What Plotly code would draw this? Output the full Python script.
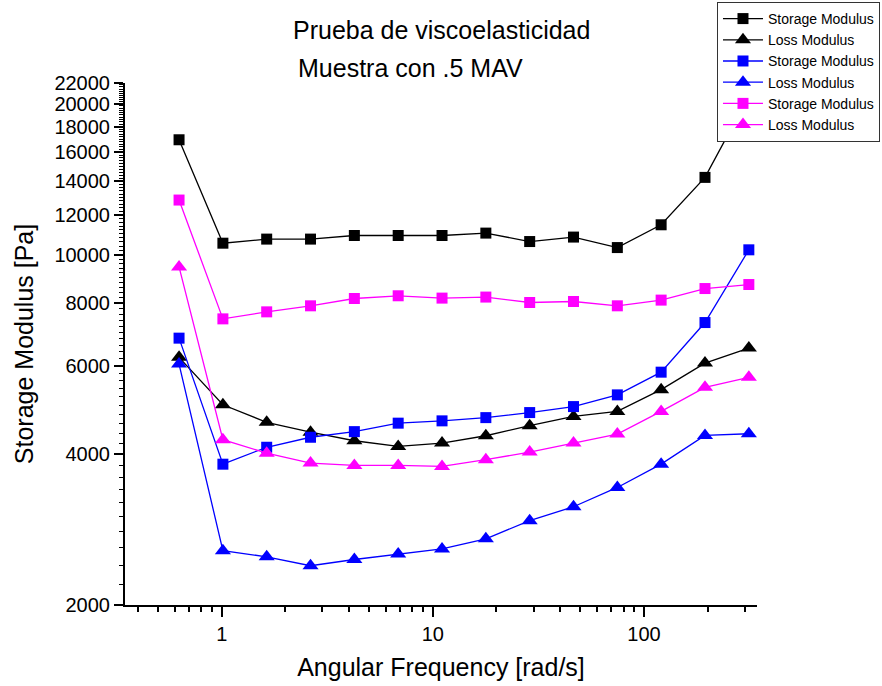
import plotly.graph_objects as go

# Angular frequency sweep (rad/s), 14 points per curve
freq = [0.628, 1.013, 1.633, 2.634, 4.248, 6.851, 11.05, 17.82, 28.74, 46.35, 74.75, 120.5, 194.4, 313.6]

# Moduli in Pa for the three samples (black, blue, magenta)
black_storage = [16950, 10540, 10740, 10740, 10920, 10920, 10920, 11040, 10620, 10840, 10330, 11470, 14260, 20740]
black_loss = [6238, 5018, 4628, 4425, 4253, 4144, 4208, 4352, 4558, 4756, 4867, 5378, 6076, 6512]
blue_storage = [6814, 3819, 4128, 4322, 4435, 4611, 4660, 4730, 4841, 4976, 5251, 5828, 7320, 10224]
blue_loss = [6048, 2566, 2496, 2395, 2465, 2527, 2588, 2711, 2946, 3141, 3432, 3820, 4358, 4392]
magenta_storage = [12850, 7445, 7689, 7905, 8175, 8278, 8190, 8229, 8026, 8063, 7905, 8115, 8558, 8717]
magenta_loss = [9450, 4274, 4018, 3838, 3797, 3797, 3780, 3899, 4037, 4208, 4386, 4867, 5436, 5692]

x_major = [1, 10, 100]
x_major_text = ["1", "10", "100"]
x_minor = [0.4, 0.5, 0.6, 0.7, 0.8, 0.9, 2, 3, 4, 5, 6, 7, 8, 9,
           20, 30, 40, 50, 60, 70, 80, 90, 200, 300]
y_major = [2000, 4000, 6000, 8000, 10000, 12000, 14000, 16000, 18000, 20000, 22000]
y_major_text = [str(v) for v in y_major]
y_minor = [v for v in range(2000, 22001, 200) if v % 2000 != 0]

FONT = "Liberation Sans, Arial, sans-serif"

series = [
    ("Storage Modulus", black_storage, "#000000", "square", 11),
    ("Loss Modulus", black_loss, "#000000", "triangle-up", 14),
    ("Storage Modulus", blue_storage, "#0000FF", "square", 11),
    ("Loss Modulus", blue_loss, "#0000FF", "triangle-up", 14),
    ("Storage Modulus", magenta_storage, "#FF00FF", "square", 11),
    ("Loss Modulus", magenta_loss, "#FF00FF", "triangle-up", 14),
]

fig = go.Figure()
for name, vals, color, symbol, size in series:
    fig.add_trace(go.Scatter(
        x=freq, y=vals, name=name, mode="lines+markers",
        line=dict(color=color, width=1.3),
        marker=dict(symbol=symbol, size=size, color=color, line=dict(width=0)),
    ))

fig.update_layout(
    width=882, height=686,
    margin=dict(l=125, r=125, t=83, b=81, autoexpand=False),
    paper_bgcolor="white", plot_bgcolor="white",
    font=dict(family=FONT, color="black"),
    showlegend=True,
    legend=dict(
        x=1.1946, y=1.1552, xanchor="right", yanchor="top",
        bgcolor="white", bordercolor="#333333", borderwidth=1,
        font=dict(size=14, family=FONT),
        tracegroupgap=0, itemwidth=40,
    ),
    annotations=[
        dict(text="Prueba de viscoelasticidad", xref="paper", yref="paper",
             x=0.2627, y=1.1015, xanchor="left", yanchor="middle",
             showarrow=False, font=dict(size=25, family=FONT)),
        dict(text="Muestra con .5 MAV", xref="paper", yref="paper",
             x=0.2706, y=1.0287, xanchor="left", yanchor="middle",
             showarrow=False, font=dict(size=25, family=FONT)),
    ],
)

fig.update_xaxes(
    type="log", range=[-0.458, 2.535], automargin=False,
    showgrid=False, zeroline=False,
    showline=True, linecolor="black", linewidth=2,
    ticks="outside", ticklen=10, tickwidth=2, tickcolor="black",
    tickmode="array", tickvals=x_major, ticktext=x_major_text,
    tickfont=dict(size=20, family=FONT),
    minor=dict(tickmode="array", tickvals=x_minor, ticks="outside",
               ticklen=5, tickwidth=1.5, tickcolor="black", showgrid=False),
    title=dict(text="Angular Frequency [rad/s]", font=dict(size=25, family=FONT), standoff=14),
)
fig.update_yaxes(
    type="log", range=[3.30103, 4.34242], automargin=False,
    showgrid=False, zeroline=False,
    showline=True, linecolor="black", linewidth=2,
    ticks="outside", ticklen=9, tickwidth=2, tickcolor="black",
    tickmode="array", tickvals=y_major, ticktext=y_major_text,
    tickfont=dict(size=20, family=FONT),
    minor=dict(tickmode="array", tickvals=y_minor, ticks="outside",
               ticklen=4, tickwidth=1.3, tickcolor="black", showgrid=False),
    title=dict(text="Storage Modulus [Pa]", font=dict(size=25, family=FONT), standoff=14),
)

fig.write_html("out.html")
